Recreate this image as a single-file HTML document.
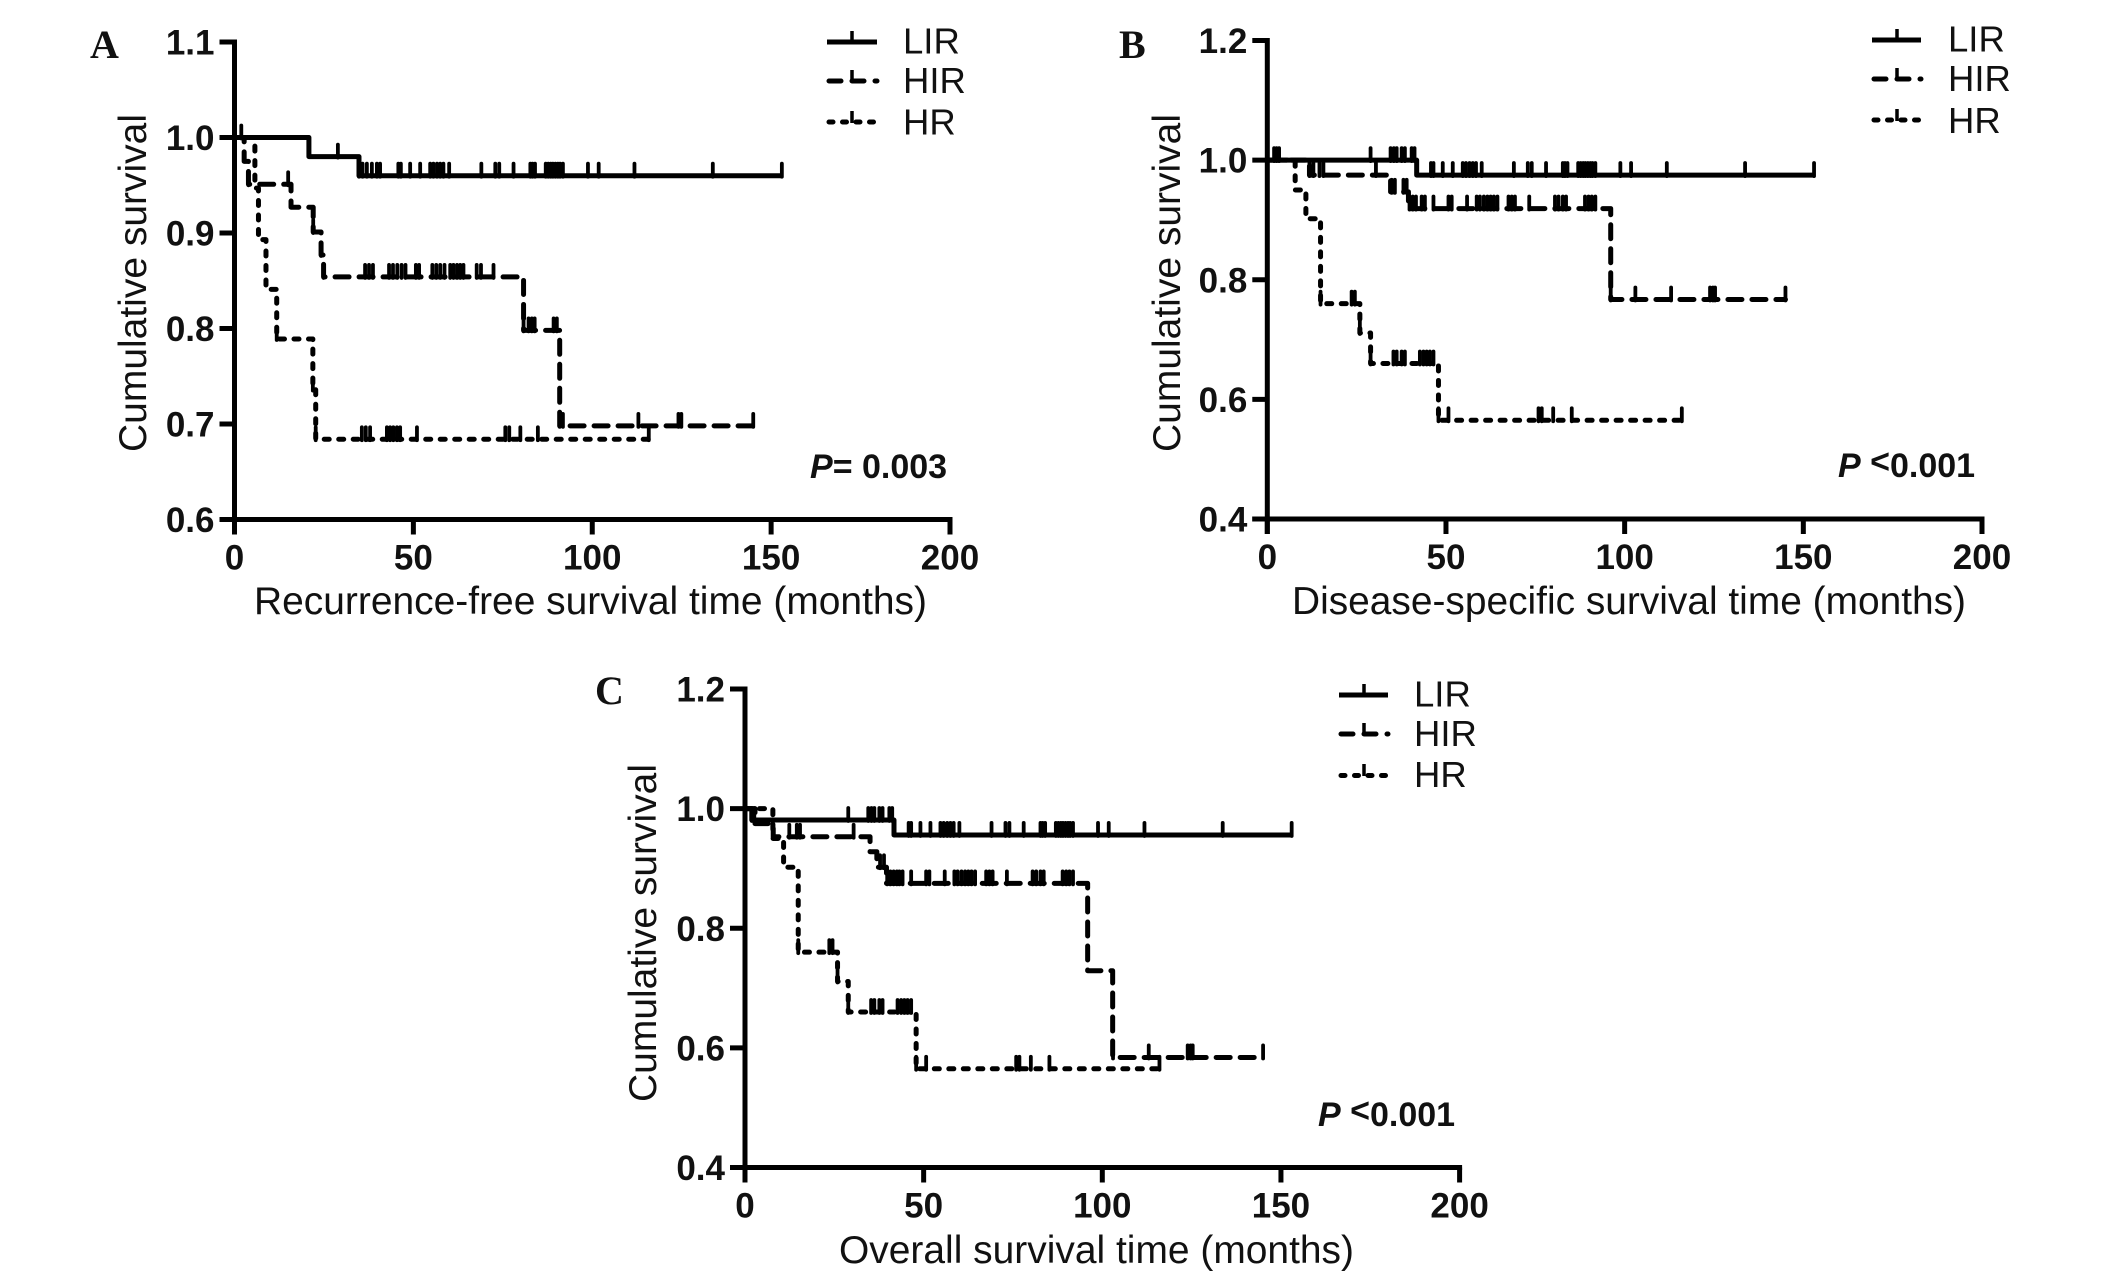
<!DOCTYPE html>
<html>
<head>
<meta charset="utf-8">
<title>Kaplan-Meier survival curves</title>
<style>
html,body{margin:0;padding:0;background:#fff;width:2124px;height:1280px;overflow:hidden}
svg{display:block;position:absolute;left:0;top:0}
text{font-family:"Liberation Sans",Arial,sans-serif;fill:#111}
.title{font-size:38.500px}
.legend{font-size:36.500px}
.tick-label{font-size:35px;font-weight:bold}
.p{font-size:34px;font-weight:bold}
.letter{font-family:"Liberation Serif",serif;font-size:40px;font-weight:bold}
</style>
</head>
<body>
<svg id="figure" width="2124" height="1280" viewBox="0 0 2124 1280" xmlns="http://www.w3.org/2000/svg">
<rect width="2124" height="1280" fill="#fff"/>

<text class="letter" x="90" y="58">A</text>
<text class="title" transform="translate(146,452) rotate(-90)" textLength="338" lengthAdjust="spacingAndGlyphs">Cumulative survival</text>
<text class="title" x="254" y="614" textLength="673" lengthAdjust="spacingAndGlyphs">Recurrence-free survival time (months)</text>
<text class="p" x="810" y="478"><tspan font-style="italic">P</tspan>= 0.003</text>
<g>
<line x1="827" x2="877" y1="42" y2="42" stroke="#000" stroke-width="5"/>
<line x1="852" x2="852" y1="31" y2="44" stroke="#000" stroke-width="3.500"/>
<text class="legend" x="903" y="53.500">LIR</text>
<line x1="829" x2="877" y1="81" y2="81" stroke="#000" stroke-width="5" stroke-dasharray="12 11" stroke-linecap="round"/>
<line x1="852" x2="852" y1="70" y2="82" stroke="#000" stroke-width="3.500"/>
<text class="legend" x="903" y="93">HIR</text>
<line x1="829" x2="877" y1="122" y2="122" stroke="#000" stroke-width="5" stroke-dasharray="4 9.500" stroke-linecap="round"/>
<line x1="852" x2="852" y1="111" y2="123" stroke="#000" stroke-width="3.500"/>
<text class="legend" x="903" y="134.500">HR</text>
</g>

<text class="letter" x="1119" y="58">B</text>
<text class="title" transform="translate(1180,452) rotate(-90)" textLength="338" lengthAdjust="spacingAndGlyphs">Cumulative survival</text>
<text class="title" x="1292" y="614" textLength="674" lengthAdjust="spacingAndGlyphs">Disease-specific survival time (months)</text>
<text class="p" x="1838" y="477"><tspan font-style="italic">P</tspan> <tspan dy="-4">&lt;</tspan><tspan dy="4">0.001</tspan></text>
<g>
<line x1="1872" x2="1921" y1="40" y2="40" stroke="#000" stroke-width="5"/>
<line x1="1897" x2="1897" y1="29" y2="42" stroke="#000" stroke-width="3.500"/>
<text class="legend" x="1948" y="51.500">LIR</text>
<line x1="1874" x2="1921" y1="79" y2="79" stroke="#000" stroke-width="5" stroke-dasharray="12 11" stroke-linecap="round"/>
<line x1="1897" x2="1897" y1="68" y2="80" stroke="#000" stroke-width="3.500"/>
<text class="legend" x="1948" y="91">HIR</text>
<line x1="1874" x2="1921" y1="120" y2="120" stroke="#000" stroke-width="5" stroke-dasharray="4 9.500" stroke-linecap="round"/>
<line x1="1897" x2="1897" y1="109" y2="121" stroke="#000" stroke-width="3.500"/>
<text class="legend" x="1948" y="133">HR</text>
</g>

<text class="letter" x="595" y="704">C</text>
<text class="title" transform="translate(656,1102) rotate(-90)" textLength="338" lengthAdjust="spacingAndGlyphs">Cumulative survival</text>
<text class="title" x="839" y="1263" textLength="515" lengthAdjust="spacingAndGlyphs">Overall survival time (months)</text>
<text class="p" x="1318" y="1126"><tspan font-style="italic">P</tspan> <tspan dy="-4">&lt;</tspan><tspan dy="4">0.001</tspan></text>
<g>
<line x1="1339" x2="1388" y1="695" y2="695" stroke="#000" stroke-width="5"/>
<line x1="1364" x2="1364" y1="684" y2="697" stroke="#000" stroke-width="3.500"/>
<text class="legend" x="1414" y="706.500">LIR</text>
<line x1="1341" x2="1388" y1="734" y2="734" stroke="#000" stroke-width="5" stroke-dasharray="12 11" stroke-linecap="round"/>
<line x1="1364" x2="1364" y1="723" y2="735" stroke="#000" stroke-width="3.500"/>
<text class="legend" x="1414" y="746">HIR</text>
<line x1="1341" x2="1388" y1="775.500" y2="775.500" stroke="#000" stroke-width="5" stroke-dasharray="4 9.500" stroke-linecap="round"/>
<line x1="1364" x2="1364" y1="764" y2="776" stroke="#000" stroke-width="3.500"/>
<text class="legend" x="1414" y="787">HR</text>
</g>
</svg>

<script>
// Shared x-axis tick labels (months)
var xTickLabels = ["0", "50", "100", "150", "200"];

// Panel A: recurrence-free survival
var aYTickLabels = ["0.6", "0.7", "0.8", "0.9", "1.0", "1.1"];
var aLirStepTimes = [20.8, 34.8];
var aLirStepSurvival = [0.98, 0.96];
var aLirEnd = 153;
var aLirCensorTimes = [1.9, 28.9, 34.8, 35.8, 37, 38.4, 39.8, 40.7, 45.8, 46.5, 49.1, 51.9, 54.7, 55.6, 56.6, 57.5, 58.4, 60, 69, 72.9, 74, 78, 82.7, 83.3, 84, 87, 87.7, 88.4, 89, 89.7, 90.4, 91, 91.8, 98.8, 101.8, 111.8, 133.7, 153];
var aHirStepTimes = [2.7, 3.9, 15.8, 22, 24.2, 24.9, 80.8, 90.9];
var aHirStepSurvival = [0.975, 0.951, 0.927, 0.901, 0.877, 0.854, 0.798, 0.698];
var aHirEnd = 145;
var aHirCensorTimes = [3.9, 15, 22, 24.2, 24.9, 36.5, 37.6, 38.7, 43.2, 44.3, 45.5, 46.7, 47.8, 50.7, 51.6, 55.3, 56.4, 57.5, 58.7, 60.3, 61.2, 62.2, 63.1, 64, 67.7, 68.9, 72.4, 80.8, 82.2, 83.1, 83.9, 89.2, 90.1, 90.9, 91.8, 112.9, 124.1, 124.9, 145];
var aHrStepTimes = [5.7, 6.7, 8.8, 11.8, 21.9, 22.7];
var aHrStepSurvival = [0.947, 0.893, 0.841, 0.789, 0.736, 0.684];
var aHrEnd = 115.8;
var aHrCensorTimes = [11.8, 21.9, 22.7, 35.6, 36.7, 37.9, 42.6, 43.5, 44.4, 45.4, 46.3, 51, 75.7, 76.8, 79.9, 84.8, 115.8];

// Panel B: disease-specific survival
var bYTickLabels = ["0.4", "0.6", "0.8", "1.0", "1.2"];
var bLirStepTimes = [41.8];
var bLirStepSurvival = [0.975];
var bLirEnd = 153;
var bLirCensorTimes = [1.9, 2.6, 3.3, 28.9, 34.5, 35.4, 36.2, 37.6, 38.5, 40.4, 41.2, 45.8, 46.5, 49.1, 51.9, 54.7, 55.6, 56.6, 57.5, 58.4, 60, 69, 72.9, 74, 78, 82.7, 83.3, 84, 87, 87.7, 88.4, 89, 89.7, 90.4, 91, 91.8, 98.8, 101.8, 111.8, 133.7, 153];
var bHirStepTimes = [11.8, 34.5, 39.5, 96.1];
var bHirStepSurvival = [0.975, 0.947, 0.919, 0.767];
var bHirEnd = 145;
var bHirCensorTimes = [11.8, 12.9, 14.6, 15.7, 30.4, 34.8, 35.7, 38.1, 39, 39.8, 40.7, 41.6, 43.2, 44.1, 46.5, 50.7, 51.6, 55.9, 58.6, 59.5, 60.6, 61.6, 62.5, 63.4, 64.4, 67.5, 68.4, 69.3, 73.3, 80.5, 81.5, 82.7, 83.6, 88.9, 89.9, 90.8, 91.8, 96.1, 103, 113, 123.9, 124.7, 125.3, 145];
var bHrStepTimes = [7.8, 10.8, 14.9, 25.9, 28.9, 47.9];
var bHrStepSurvival = [0.95, 0.902, 0.76, 0.711, 0.66, 0.565];
var bHrEnd = 116;
var bHrCensorTimes = [14.9, 23.6, 24.5, 25.9, 28.9, 35.3, 36.2, 37.6, 38.5, 42.7, 43.7, 44.6, 45.5, 46.5, 47.9, 50.7, 75.9, 76.8, 80, 85.2, 116];

// Panel C: overall survival
var cYTickLabels = ["0.4", "0.6", "0.8", "1.0", "1.2"];
var cLirStepTimes = [1.9, 41.7];
var cLirStepSurvival = [0.981, 0.956];
var cLirEnd = 153;
var cLirCensorTimes = [1.9, 2.6, 28.9, 34.5, 35.4, 36.2, 37.6, 38.5, 40.4, 41.2, 45.8, 46.5, 49.1, 51.9, 54.7, 55.6, 56.6, 57.5, 58.4, 60, 69, 72.9, 74, 78, 82.7, 83.3, 84, 87, 87.7, 88.4, 89, 89.7, 90.4, 91, 91.8, 98.8, 101.8, 111.8, 133.7, 153];
var cHirStepTimes = [2.8, 7.9, 35, 36.9, 39.6, 95.9, 102.9];
var cHirStepSurvival = [0.975, 0.953, 0.928, 0.902, 0.875, 0.729, 0.584];
var cHirEnd = 145;
var cHirCensorTimes = [7.9, 12.4, 14.5, 15.4, 30.4, 37.8, 38.9, 39.8, 40.7, 41.6, 42.5, 43.2, 44.1, 46.5, 50.7, 51.6, 55.9, 58.6, 59.5, 60.6, 61.6, 62.5, 63.4, 64.4, 67.5, 68.4, 69.3, 73.3, 80.5, 81.5, 82.7, 83.6, 88.9, 89.9, 90.8, 91.8, 103, 113, 123.9, 124.7, 125.3, 145];
var cHrStepTimes = [7.8, 10.8, 14.9, 25.9, 28.9, 47.9];
var cHrStepSurvival = [0.95, 0.902, 0.76, 0.711, 0.66, 0.565];
var cHrEnd = 116;
var cHrCensorTimes = [14.9, 23.6, 24.5, 25.9, 28.9, 35.3, 36.2, 37.6, 38.5, 42.7, 43.7, 44.6, 45.5, 46.5, 47.9, 50.7, 75.9, 76.8, 80, 85.2, 116];

var NS = "http://www.w3.org/2000/svg";
var svg = document.getElementById("figure");

function mk(tag, attrs, parent) {
  var el = document.createElementNS(NS, tag);
  for (var k in attrs) el.setAttribute(k, attrs[k]);
  parent.appendChild(el);
  return el;
}

function drawSeries(parent, name, sx, sy, stepTimes, stepSurv, endTime, censorTimes, dash) {
  var g = mk("g", {}, parent);
  
  
  var d = "M" + sx(0) + " " + sy(1);
  for (var i = 0; i < stepTimes.length; i++) {
    d += " H" + sx(stepTimes[i]) + " V" + sy(stepSurv[i]);
  }
  d += " H" + sx(endTime);
  var attrs = {d: d, fill: "none", stroke: "#000", "stroke-width": 5, "stroke-linejoin": "round"};
  if (dash) {
    attrs["stroke-dasharray"] = dash;
    attrs["stroke-linecap"] = "round";
  }
  var curve = mk("path", attrs, g);
  
  
  censorTimes.forEach(function (t) {
    var s = 1;
    for (var j = 0; j < stepTimes.length; j++) {
      if (stepTimes[j] <= t) s = stepSurv[j];
    }
    var tick = mk("line", {
      x1: sx(t), x2: sx(t), y1: sy(s) + 1, y2: sy(s) - 12,
      stroke: "#000", "stroke-width": 3.8, "stroke-linecap": "round"
    }, g);
    
    
  });
}

function drawPanel(p) {
  var g = mk("g", {}, svg);
  
  

  var yTickLabels = p.yLabels;
  var yLo = parseFloat(yTickLabels[0]);
  var yHi = parseFloat(yTickLabels[yTickLabels.length - 1]);
  var xHi = parseFloat(xTickLabels[xTickLabels.length - 1]);
  var sx = function (v) { return p.left + (v / xHi) * (p.right - p.left); };
  var sy = function (v) { return p.bottom - ((v - yLo) / (yHi - yLo)) * (p.bottom - p.top); };

  var yAxis = mk("line", {x1: p.left, x2: p.left, y1: p.top - 2.5, y2: p.bottom + 15, stroke: "#000", "stroke-width": 5}, g);
  
  
  var xAxis = mk("line", {x1: p.left - 15, x2: p.right + 2.5, y1: p.bottom, y2: p.bottom, stroke: "#000", "stroke-width": 5}, g);
  
  

  yTickLabels.forEach(function (lab) {
    var y = sy(parseFloat(lab));
    var t = mk("line", {x1: p.left - 15, x2: p.left, y1: y, y2: y, stroke: "#000", "stroke-width": 5}, g);
    
    
    var txt = mk("text", {x: p.left - 20, y: y + 12.500, "text-anchor": "end", "class": "tick-label"}, g);
    
    
    txt.textContent = lab;
  });
  xTickLabels.forEach(function (lab) {
    var x = sx(parseFloat(lab));
    var t = mk("line", {x1: x, x2: x, y1: p.bottom, y2: p.bottom + 15, stroke: "#000", "stroke-width": 5}, g);
    
    
    var txt = mk("text", {x: x, y: p.bottom + 50, "text-anchor": "middle", "class": "tick-label"}, g);
    
    
    txt.textContent = lab;
  });

  drawSeries(g, 'lir', sx, sy, p.lir[0], p.lir[1], p.lir[2], p.lir[3], null);
  drawSeries(g, 'hir', sx, sy, p.hir[0], p.hir[1], p.hir[2], p.hir[3], "14 10");
  drawSeries(g, 'hr', sx, sy, p.hr[0], p.hr[1], p.hr[2], p.hr[3], "5 9.500");
}

drawPanel({id: "a", left: 234.5, right: 950, top: 42, bottom: 519.5, yLabels: aYTickLabels,
  lir: [aLirStepTimes, aLirStepSurvival, aLirEnd, aLirCensorTimes],
  hir: [aHirStepTimes, aHirStepSurvival, aHirEnd, aHirCensorTimes],
  hr: [aHrStepTimes, aHrStepSurvival, aHrEnd, aHrCensorTimes]});
drawPanel({id: "b", left: 1267.3, right: 1982, top: 40.5, bottom: 519, yLabels: bYTickLabels,
  lir: [bLirStepTimes, bLirStepSurvival, bLirEnd, bLirCensorTimes],
  hir: [bHirStepTimes, bHirStepSurvival, bHirEnd, bHirCensorTimes],
  hr: [bHrStepTimes, bHrStepSurvival, bHrEnd, bHrCensorTimes]});
drawPanel({id: "c", left: 745, right: 1459.6, top: 689, bottom: 1167.5, yLabels: cYTickLabels,
  lir: [cLirStepTimes, cLirStepSurvival, cLirEnd, cLirCensorTimes],
  hir: [cHirStepTimes, cHirStepSurvival, cHirEnd, cHirCensorTimes],
  hr: [cHrStepTimes, cHrStepSurvival, cHrEnd, cHrCensorTimes]});
</script>
</body>
</html>
